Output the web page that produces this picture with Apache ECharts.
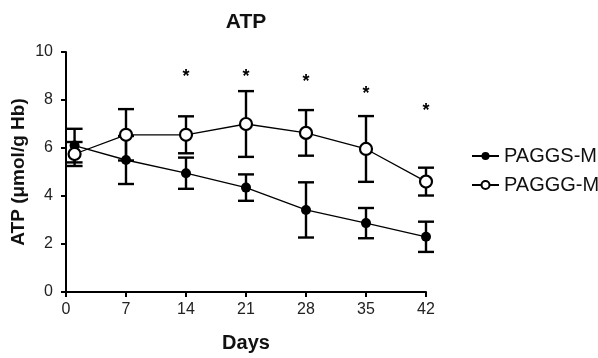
<!DOCTYPE html>
<html>
<head>
<meta charset="utf-8">
<script src="https://cdn.jsdelivr.net/npm/echarts@6/dist/echarts.min.js"></script>
<style>
  html, body { margin: 0; padding: 0; background: #fff; }
  #chart { width: 598px; height: 358px; }
</style>
</head>
<body>
<div id="chart"></div>
<script>
// days of storage
const days = [1, 7, 14, 21, 28, 35, 42];

// PAGGS-M (filled)
const paggsMean = [6.1, 5.5, 4.95, 4.35, 3.42, 2.87, 2.3];
const paggsErr = [0.7, 1.0, 0.65, 0.55, 1.15, 0.63, 0.63];

// PAGGG-M (open)
const pagggMean = [5.75, 6.55, 6.55, 7.0, 6.63, 5.96, 4.6];
const pagggErr = [0.5, 1.07, 0.77, 1.37, 0.95, 1.37, 0.58];

// significance markers
const starDays = [14, 21, 28, 35, 42];
const starY = [8.95, 8.95, 8.75, 8.25, 7.55];

const font = 'Liberation Sans, Arial, sans-serif';

const errorData = (means, errs) =>
  days.map((d, i) => [d, means[i] - errs[i], means[i] + errs[i]]);

const renderError = (params, api) => {
  const x = api.value(0);
  const lo = api.coord([x, api.value(1)]);
  const hi = api.coord([x, api.value(2)]);
  const w = 8;
  const style = { stroke: '#000', lineWidth: 2.4 };
  return {
    type: 'group',
    children: [
      { type: 'line', shape: { x1: lo[0], y1: lo[1], x2: hi[0], y2: hi[1] }, style },
      { type: 'line', shape: { x1: lo[0] - w, y1: lo[1], x2: lo[0] + w, y2: lo[1] }, style },
      { type: 'line', shape: { x1: hi[0] - w, y1: hi[1], x2: hi[0] + w, y2: hi[1] }, style },
    ],
  };
};

const chart = echarts.init(document.getElementById('chart'));

chart.setOption({
  animation: false,
  backgroundColor: '#fff',
  title: {
    text: 'ATP',
    left: 241,
    textAlign: 'center',
    top: 7,
    textStyle: { fontFamily: font, fontSize: 21, fontWeight: 'bold', color: '#111' },
  },
  legend: {
    orient: 'vertical',
    left: 466,
    top: 141,
    itemWidth: 27,
    itemHeight: 10,
    itemGap: 9,
    textStyle: { fontFamily: font, fontSize: 20, color: '#111' },
    data: ['PAGGS-M', 'PAGGG-M'],
  },
  grid: { left: 66, right: 172, top: 52, bottom: 66, outerBoundsMode: 'none' },
  xAxis: {
    type: 'value',
    min: 0,
    max: 42,
    interval: 7,
    name: 'Days',
    nameLocation: 'middle',
    nameGap: 41,
    nameTextStyle: { fontFamily: font, fontSize: 20, fontWeight: 'bold', color: '#111' },
    axisLine: { lineStyle: { color: '#000', width: 2 } },
    axisTick: { lineStyle: { color: '#000', width: 2 }, length: 5 },
    axisLabel: { fontFamily: font, fontSize: 16, color: '#222', margin: 10 },
    splitLine: { show: false },
  },
  yAxis: {
    type: 'value',
    min: 0,
    max: 10,
    interval: 2,
    name: 'ATP (μmol/g Hb)',
    nameLocation: 'middle',
    nameGap: 38,
    nameMoveOverlap: false,
    nameTextStyle: { fontFamily: font, fontSize: 19, fontWeight: 'bold', color: '#111' },
    axisLine: { show: true, lineStyle: { color: '#000', width: 2 } },
    axisTick: { show: true, lineStyle: { color: '#000', width: 2 }, length: 5 },
    axisLabel: { fontFamily: font, fontSize: 16, color: '#222', margin: 13 },
    splitLine: { show: false },
  },
  series: [
    {
      type: 'custom',
      renderItem: renderError,
      data: errorData(paggsMean, paggsErr),
      z: 2,
    },
    {
      type: 'custom',
      renderItem: renderError,
      data: errorData(pagggMean, pagggErr),
      z: 2,
    },
    {
      name: 'PAGGS-M',
      type: 'line',
      data: days.map((d, i) => [d, paggsMean[i]]),
      symbol: 'circle',
      symbolSize: 10,
      itemStyle: { color: '#000' },
      lineStyle: { color: '#000', width: 1.3 },
      z: 3,
    },
    {
      name: 'PAGGG-M',
      type: 'line',
      data: days.map((d, i) => [d, pagggMean[i]]),
      symbol: 'circle',
      symbolSize: 12,
      itemStyle: { color: '#fff', borderColor: '#000', borderWidth: 2.2 },
      lineStyle: { color: '#000', width: 1.3 },
      z: 4,
    },
    {
      type: 'custom',
      data: starDays.map((d, i) => [d, starY[i]]),
      renderItem: (params, api) => {
        const p = api.coord([api.value(0), api.value(1)]);
        return {
          type: 'text',
          x: p[0],
          y: p[1],
          style: {
            text: '*',
            fontFamily: font,
            fontSize: 18,
            fontWeight: 'bold',
            fill: '#000',
            align: 'center',
            verticalAlign: 'middle',
          },
        };
      },
      z: 5,
    },
  ],
});
</script>
</body>
</html>
